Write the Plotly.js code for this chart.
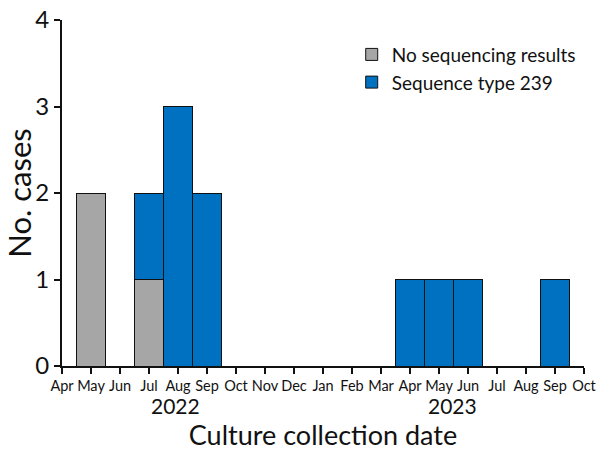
<!DOCTYPE html>
<html>
<head>
<meta charset="utf-8">
<script src="https://cdn.plot.ly/plotly-3.0.1.min.js"></script>
<style>html,body{margin:0;padding:0;background:#fff}#chart{width:600px;height:451px}</style>
</head>
<body>
<div id="chart"></div>
<script>
const months = ["Apr","May","Jun","Jul","Aug","Sep","Oct","Nov","Dec","Jan","Feb","Mar","Apr","May","Jun","Jul","Aug","Sep","Oct"];
const noSeq = [0,2,0,1,0,0,0,0,0,0,0,0,0,0,0,0,0,0,0];
const st239 = [0,0,0,1,3,2,0,0,0,0,0,0,1,1,1,0,0,1,0];
const years = ["2022","2023"];
const yearPos = [3.9, 13.45];
const seriesNames = ["No sequencing results","Sequence type 239"];

const idx = months.map((m,i)=>i);
const FONT = "Lato, 'Noto Sans', sans-serif";

const traces = [
  {type:"bar", x:idx, y:noSeq, name:seriesNames[0], width:1,
   marker:{color:"#A6A6A6", line:{color:"#111", width:1}}},
  {type:"bar", x:idx, y:st239, name:seriesNames[1], width:1,
   marker:{color:"#0070C0", line:{color:"#111", width:1}}}
];

const layout = {
  width:600, height:451,
  margin:{l:62, r:16, t:20, b:85},
  barmode:"stack",
  paper_bgcolor:"#fff", plot_bgcolor:"#fff",
  font:{family:FONT, color:"#111"},
  showlegend:true,
  legend:{x:0.555, y:0.955, xanchor:"left", yanchor:"top", font:{size:19, family:FONT},
          traceorder:"normal", bgcolor:"rgba(0,0,0,0)", tracegroupgap:0, itemwidth:30},
  xaxis:{range:[0,18], tickmode:"array", tickvals:idx, ticktext:months,
         showgrid:false, zeroline:false, showline:true, linecolor:"#111", linewidth:2,
         ticks:"outside", ticklen:6, tickwidth:2, tickcolor:"#111",
         tickfont:{size:14.5, family:FONT},
         title:{text:"Culture collection date", font:{size:27, family:FONT}, standoff:34}},
  yaxis:{range:[0,4], tickvals:[0,1,2,3,4], showgrid:false, zeroline:false,
         showline:true, linecolor:"#111", linewidth:2,
         ticks:"outside", ticklen:6, tickwidth:2, tickcolor:"#111",
         tickfont:{size:24, family:FONT},
         title:{text:"No. cases", font:{size:31, family:FONT}, standoff:6}},
  annotations: years.map((t,i)=>({x:yearPos[i], xref:"x", y:-0.075, yref:"paper",
     yanchor:"top", borderpad:0, text:t, showarrow:false, font:{size:21, family:FONT, color:"#111"}}))
};

Plotly.newPlot("chart", traces, layout, {displayModeBar:false, staticPlot:true});
</script>
</body>
</html>
